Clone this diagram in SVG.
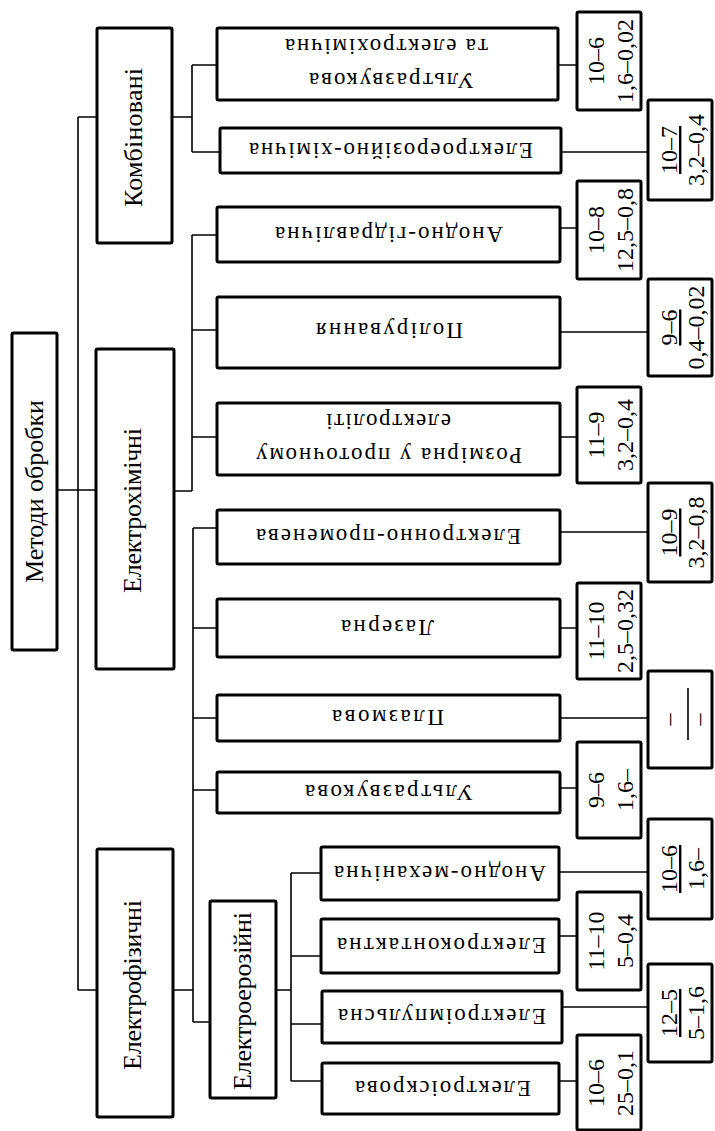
<svg xmlns="http://www.w3.org/2000/svg" width="715" height="1131" viewBox="0 0 715 1131">
<style>
.box{fill:#fff;stroke:#000;stroke-width:3}
.conn path{stroke:#000;stroke-width:1.6;fill:none}
.t{font-family:"Liberation Serif","Times New Roman",serif;fill:#000}
.g{font-size:26px}
.l{font-size:23px}
.n{font-size:24px}
.u{text-decoration:underline}
</style>
<rect width="715" height="1131" fill="#fff"/>
<g class="conn">
<path d="M57 490H96M78 117V990M78 117H97M78 990H97"/>
<path d="M172 117H192M192 65V152M192 65H217M192 152H220M558 65H577M561 152H648"/>
<path d="M174 491H192M192 235V491M192 235H217M192 330H217M192 437H217M560 228H577M560 332H648M560 437H577"/>
<path d="M173 990H193M193 528V1022M193 528H217M193 628H217M193 718H217M193 790H217M193 1022H210M560 532H648M560 628H577M560 718H648M560 788H577"/>
<path d="M276 990H291M291 873V1081M291 873H321M291 956H321M291 1024H322M291 1081H322M559 872H648M559 936H577M562 1007H648M559 1081H577"/>
</g>
<g id="root"><rect class="box" x="12" y="333" width="45" height="317" rx="1.5"/><text class="t g" x="43" y="491.5" transform="rotate(-90 43 491.5)" text-anchor="middle" textLength="183" lengthAdjust="spacing">Методи обробки</text></g>
<g id="kombinovani"><rect class="box" x="97" y="28" width="75" height="215" rx="1.5"/><text class="t g" x="142" y="137.5" transform="rotate(-90 142 137.5)" text-anchor="middle" textLength="139" lengthAdjust="spacing">Комбіновані</text></g>
<g id="elektrokhimichni"><rect class="box" x="96" y="349" width="78" height="320" rx="1.5"/><text class="t g" x="141" y="510.5" transform="rotate(-90 141 510.5)" text-anchor="middle" textLength="165" lengthAdjust="spacing">Електрохімічні</text></g>
<g id="elektrofizychni"><rect class="box" x="97" y="849" width="76" height="268" rx="1.5"/><text class="t g" x="141" y="985" transform="rotate(-90 141 985)" text-anchor="middle" textLength="170" lengthAdjust="spacing">Електрофізичні</text></g>
<g id="elektroeroziini"><rect class="box" x="210" y="901" width="66" height="197" rx="1.5"/><text class="t g" x="251" y="1001" transform="rotate(-90 251 1001)" text-anchor="middle" textLength="178" lengthAdjust="spacing">Електроерозійні</text></g>

<g id="leaf1"><rect class="box" x="217" y="28" width="341" height="72" rx="1.5"/>
<text class="t l" x="391.5" y="88.6" transform="rotate(180 391.5 81)" text-anchor="middle" textLength="165" lengthAdjust="spacing">Ультразвукова</text>
<text class="t l" x="386.5" y="54.6" transform="rotate(180 386.5 47)" text-anchor="middle" textLength="203" lengthAdjust="spacing">та електрохімічна</text></g>
<g id="leaf2"><rect class="box" x="220" y="128" width="341" height="45" rx="1.5"/>
<text class="t l" x="391" y="158.1" transform="rotate(180 391 150.5)" text-anchor="middle" textLength="284" lengthAdjust="spacing">Електроерозійно-хімічна</text></g>
<g id="leaf3"><rect class="box" x="217" y="207" width="343" height="55" rx="1.5"/>
<text class="t l" x="389" y="242.1" transform="rotate(180 389 234.5)" text-anchor="middle" textLength="228" lengthAdjust="spacing">Анодно-гідравлічна</text></g>
<g id="leaf4"><rect class="box" x="217" y="297" width="343" height="71" rx="1.5"/>
<text class="t l" x="389.5" y="338.6" transform="rotate(180 389.5 331)" text-anchor="middle" textLength="147" lengthAdjust="spacing">Полірування</text></g>
<g id="leaf5"><rect class="box" x="217" y="403" width="343" height="72" rx="1.5"/>
<text class="t l" x="389" y="463.6" transform="rotate(180 389 456)" text-anchor="middle" textLength="266" lengthAdjust="spacing">Розмірна у проточному</text>
<text class="t l" x="388.5" y="429.6" transform="rotate(180 388.5 422)" text-anchor="middle" textLength="125" lengthAdjust="spacing">електроліті</text></g>
<g id="leaf6"><rect class="box" x="217" y="510" width="343" height="54" rx="1.5"/>
<text class="t l" x="388.5" y="544.6" transform="rotate(180 388.5 537)" text-anchor="middle" textLength="265" lengthAdjust="spacing">Електронно-променева</text></g>
<g id="leaf7"><rect class="box" x="217" y="599" width="343" height="58" rx="1.5"/>
<text class="t l" x="387.5" y="635.6" transform="rotate(180 387.5 628)" text-anchor="middle" textLength="93" lengthAdjust="spacing">Лазерна</text></g>
<g id="leaf8"><rect class="box" x="217" y="695" width="343" height="46" rx="1.5"/>
<text class="t l" x="388" y="725.6" transform="rotate(180 388 718)" text-anchor="middle" textLength="112" lengthAdjust="spacing">Плазмова</text></g>
<g id="leaf9"><rect class="box" x="217" y="772" width="343" height="41" rx="1.5"/>
<text class="t l" x="389" y="800.1" transform="rotate(180 389 792.5)" text-anchor="middle" textLength="168" lengthAdjust="spacing">Ультразвукова</text></g>
<g id="leaf10"><rect class="box" x="321" y="847" width="238" height="53" rx="1.5"/>
<text class="t l" x="440" y="881.1" transform="rotate(180 440 873.5)" text-anchor="middle" textLength="212" lengthAdjust="spacing">Анодно-механічна</text></g>
<g id="leaf11"><rect class="box" x="321" y="919" width="238" height="54" rx="1.5"/>
<text class="t l" x="441.5" y="953.6" transform="rotate(180 441.5 946)" text-anchor="middle" textLength="209" lengthAdjust="spacing">Електроконтактна</text></g>
<g id="leaf12"><rect class="box" x="322" y="991" width="240" height="52" rx="1.5"/>
<text class="t l" x="442" y="1024.6" transform="rotate(180 442 1017)" text-anchor="middle" textLength="208" lengthAdjust="spacing">Електроімпульсна</text></g>
<g id="leaf13"><rect class="box" x="322" y="1063" width="237" height="51" rx="1.5"/>
<text class="t l" x="443" y="1096.1" transform="rotate(180 443 1088.5)" text-anchor="middle" textLength="176" lengthAdjust="spacing">Електроіскрова</text></g>

<g id="num1"><rect class="box" x="577" y="12" width="64" height="98" rx="1.5"/>
<text class="t n" x="604" y="61" transform="rotate(-90 604 61)" text-anchor="middle">10–6</text>
<text class="t n" x="633" y="61" transform="rotate(-90 633 61)" text-anchor="middle">1,6–0,02</text></g>
<g id="num2"><rect class="box" x="648" y="100" width="64" height="100" rx="1.5"/>
<text class="t n u" x="677" y="150" transform="rotate(-90 677 150)" text-anchor="middle">10–7</text>
<text class="t n" x="704" y="150" transform="rotate(-90 704 150)" text-anchor="middle">3,2–0,4</text></g>
<g id="num3"><rect class="box" x="577" y="181" width="64" height="98" rx="1.5"/>
<text class="t n" x="604" y="230" transform="rotate(-90 604 230)" text-anchor="middle">10–8</text>
<text class="t n" x="633" y="230" transform="rotate(-90 633 230)" text-anchor="middle">12,5–0,8</text></g>
<g id="num4"><rect class="box" x="648" y="279" width="64" height="97" rx="1.5"/>
<text class="t n u" x="677" y="327.5" transform="rotate(-90 677 327.5)" text-anchor="middle">9–6</text>
<text class="t n" x="704" y="327.5" transform="rotate(-90 704 327.5)" text-anchor="middle">0,4–0,02</text></g>
<g id="num5"><rect class="box" x="577" y="387" width="64" height="96" rx="1.5"/>
<text class="t n" x="604" y="435" transform="rotate(-90 604 435)" text-anchor="middle">11–9</text>
<text class="t n" x="633" y="435" transform="rotate(-90 633 435)" text-anchor="middle">3,2–0,4</text></g>
<g id="num6"><rect class="box" x="648" y="483" width="64" height="99" rx="1.5"/>
<text class="t n u" x="677" y="532.5" transform="rotate(-90 677 532.5)" text-anchor="middle">10–9</text>
<text class="t n" x="704" y="532.5" transform="rotate(-90 704 532.5)" text-anchor="middle">3,2–0,8</text></g>
<g id="num7"><rect class="box" x="577" y="583" width="64" height="96" rx="1.5"/>
<text class="t n" x="604" y="631" transform="rotate(-90 604 631)" text-anchor="middle">11–10</text>
<text class="t n" x="633" y="631" transform="rotate(-90 633 631)" text-anchor="middle">2,5–0,32</text></g>
<g id="num8"><rect class="box" x="648" y="671" width="64" height="97" rx="1.5"/>
<text class="t n" x="676" y="719.5" transform="rotate(-90 676 719.5)" text-anchor="middle">–</text>
<line x1="688" y1="688" x2="688" y2="740" stroke="#000" stroke-width="1.6"/>
<text class="t n" x="706" y="719.5" transform="rotate(-90 706 719.5)" text-anchor="middle">–</text></g>
<g id="num9"><rect class="box" x="577" y="742" width="64" height="96" rx="1.5"/>
<text class="t n" x="604" y="790" transform="rotate(-90 604 790)" text-anchor="middle">9–6</text>
<text class="t n" x="633" y="790" transform="rotate(-90 633 790)" text-anchor="middle">1,6–</text></g>
<g id="num10"><rect class="box" x="648" y="819" width="64" height="100" rx="1.5"/>
<text class="t n u" x="677" y="869" transform="rotate(-90 677 869)" text-anchor="middle">10–6</text>
<text class="t n" x="704" y="869" transform="rotate(-90 704 869)" text-anchor="middle">1,6–</text></g>
<g id="num11"><rect class="box" x="577" y="892" width="64" height="98" rx="1.5"/>
<text class="t n" x="604" y="941" transform="rotate(-90 604 941)" text-anchor="middle">11–10</text>
<text class="t n" x="633" y="941" transform="rotate(-90 633 941)" text-anchor="middle">5–0,4</text></g>
<g id="num12"><rect class="box" x="648" y="964" width="64" height="98" rx="1.5"/>
<text class="t n u" x="677" y="1013" transform="rotate(-90 677 1013)" text-anchor="middle">12–5</text>
<text class="t n" x="704" y="1013" transform="rotate(-90 704 1013)" text-anchor="middle">5–1,6</text></g>
<g id="num13"><rect class="box" x="577" y="1035" width="64" height="95" rx="1.5"/>
<text class="t n" x="604" y="1083" transform="rotate(-90 604 1083)" text-anchor="middle">10–6</text>
<text class="t n" x="633" y="1083" transform="rotate(-90 633 1083)" text-anchor="middle">25–0,1</text></g>
</svg>
